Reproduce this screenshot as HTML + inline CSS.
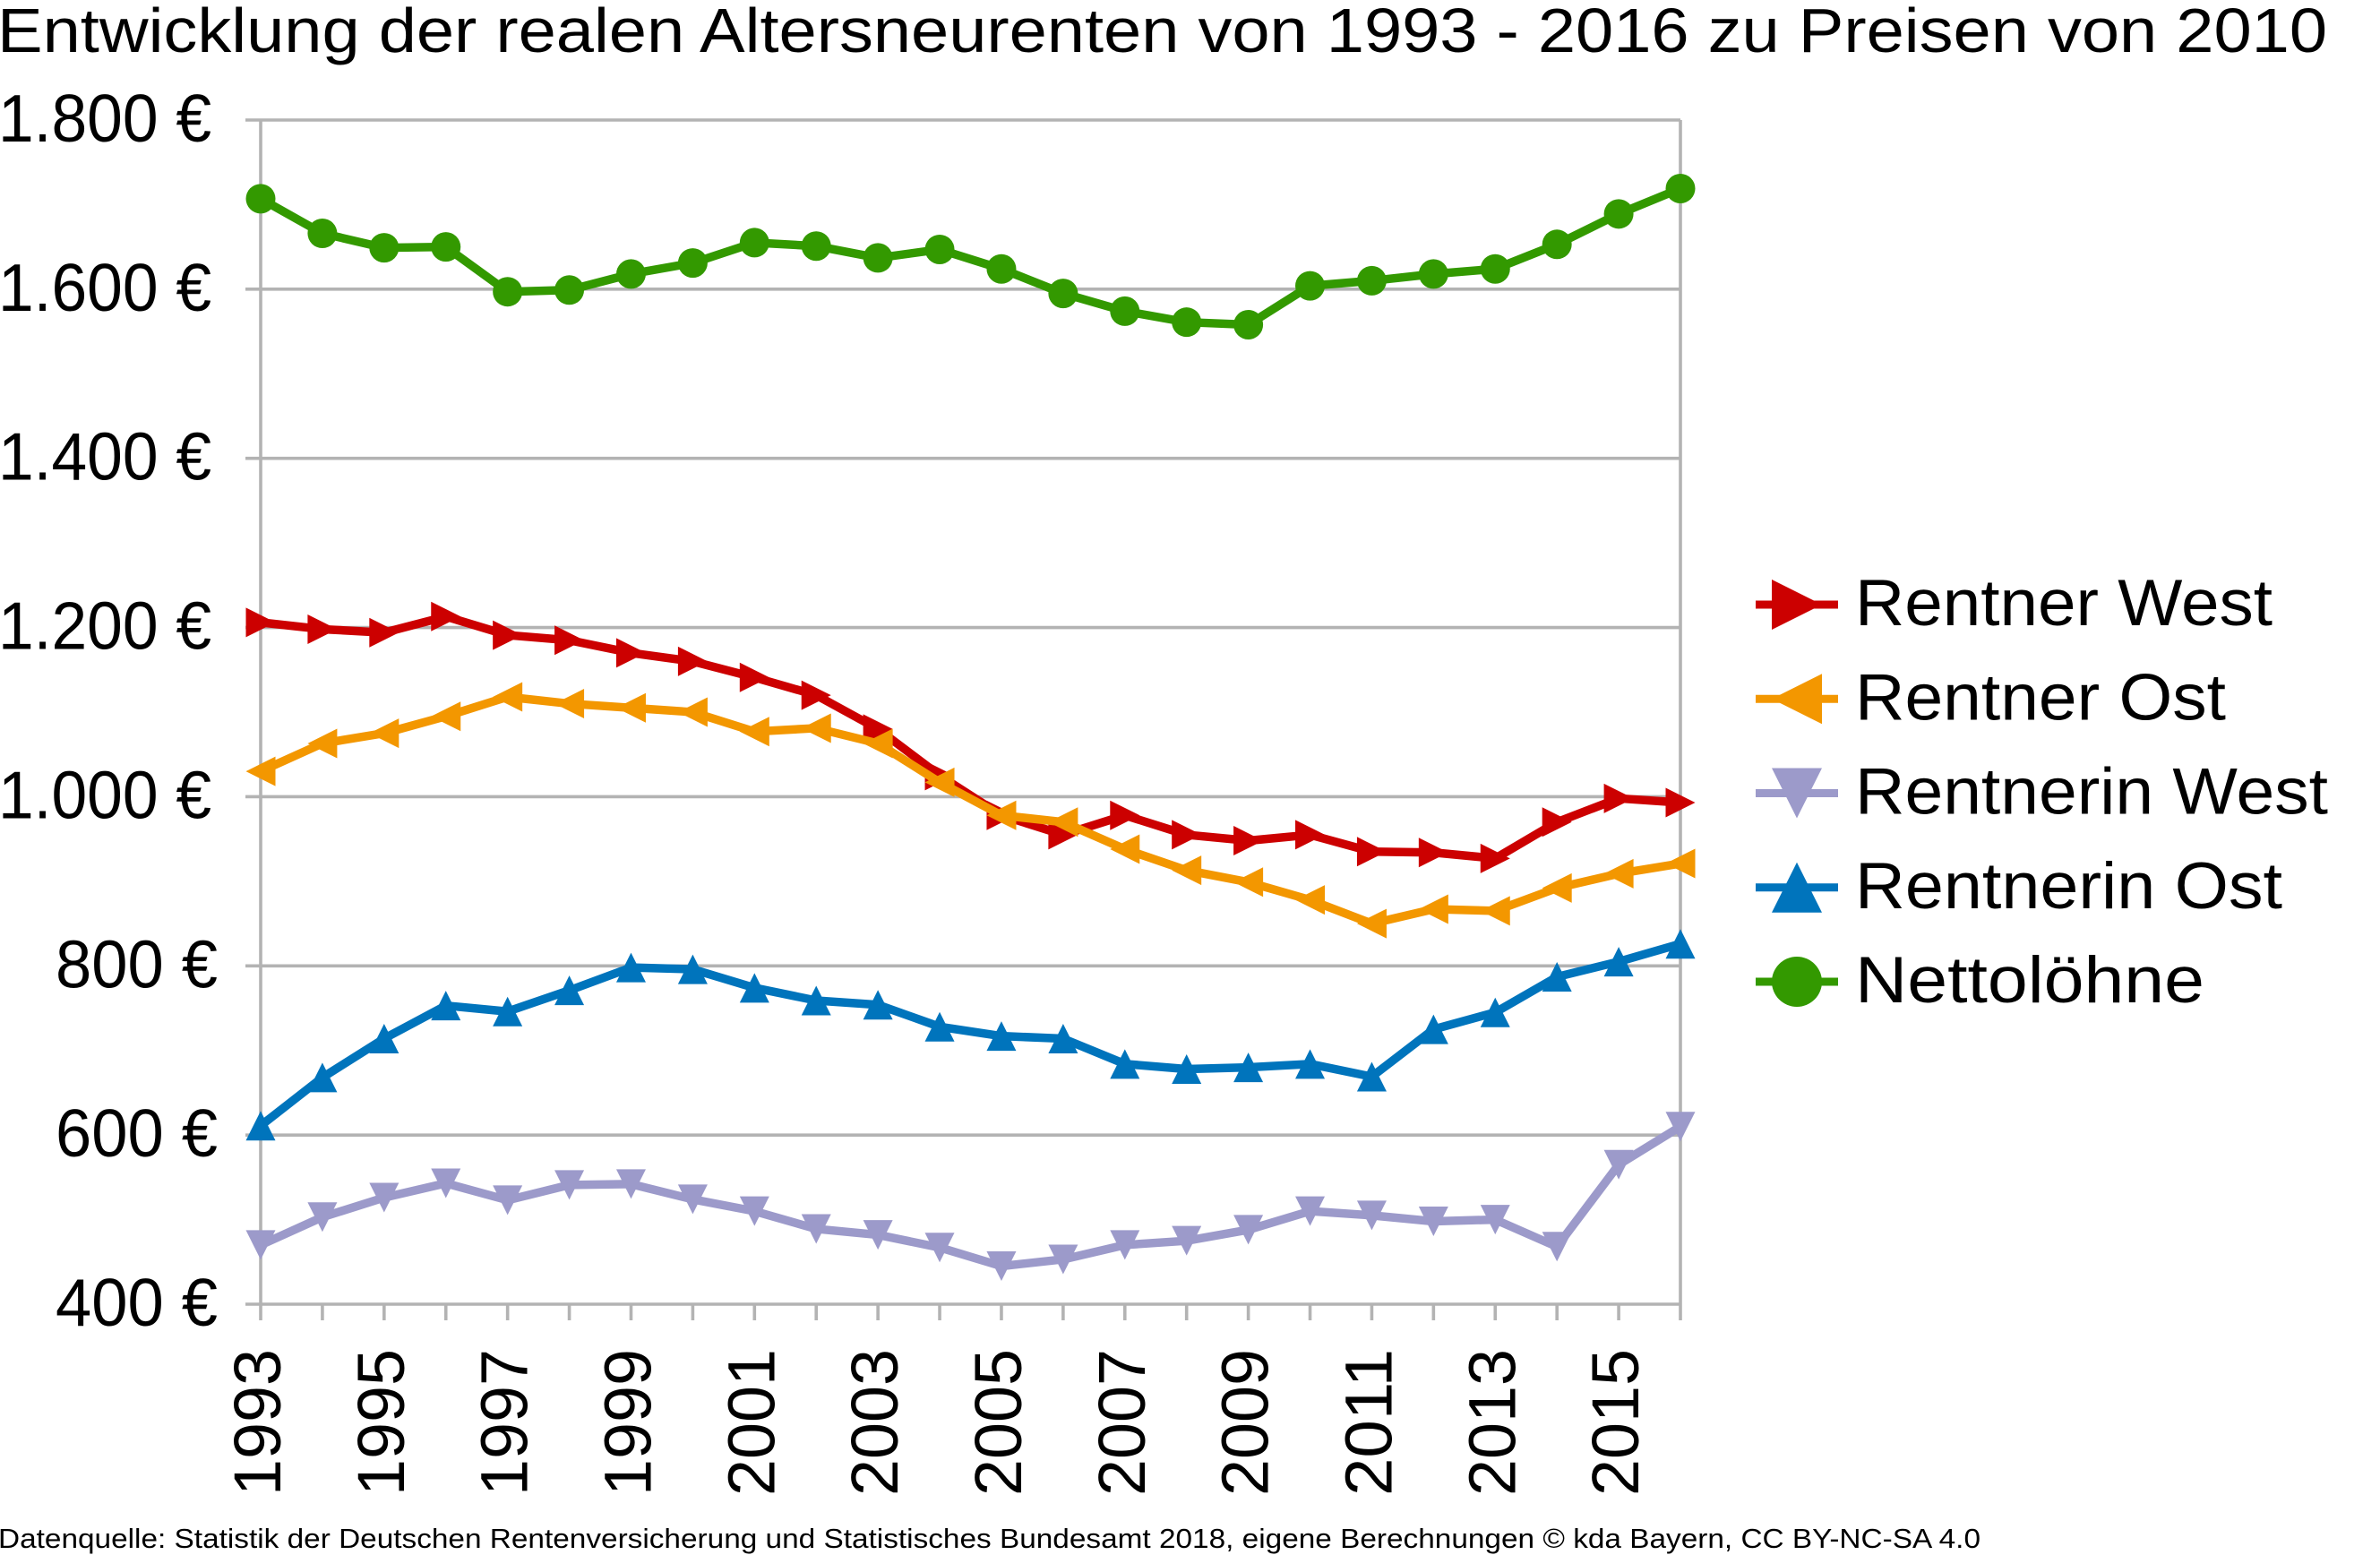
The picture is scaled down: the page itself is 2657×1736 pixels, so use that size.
<!DOCTYPE html>
<html lang="de">
<head>
<meta charset="utf-8">
<title>Entwicklung der realen Altersneurenten</title>
<style>
html,body{margin:0;padding:0;background:#fff;width:2657px;height:1736px;overflow:hidden}
svg{display:block}
text{font-family:"Liberation Sans",sans-serif;fill:#000}
</style>
</head>
<body>
<svg id="chart" xmlns="http://www.w3.org/2000/svg" width="2657" height="1736" viewBox="0 0 2657 1736">
<rect x="0" y="0" width="2657" height="1736" fill="#ffffff"/>
<text x="-3" y="58" font-size="70" textLength="2601" lengthAdjust="spacingAndGlyphs">Entwicklung der realen Altersneurenten von 1993 - 2016 zu Preisen von 2010</text>
<text x="-2" y="1728" font-size="31" textLength="2213" lengthAdjust="spacingAndGlyphs">Datenquelle: Statistik der Deutschen Rentenversicherung und Statistisches Bundesamt 2018, eigene Berechnungen © kda Bayern, CC BY-NC-SA 4.0</text>
<g id="grid"></g>
<g id="series"></g>
<g id="labels"></g>
<g id="legend"></g>
</svg>
<script>
var years = [1993,1994,1995,1996,1997,1998,1999,2000,2001,2002,2003,2004,2005,2006,2007,2008,2009,2010,2011,2012,2013,2014,2015,2016];
var yTicks = [400,600,800,1000,1200,1400,1600,1800];
var yTickLabels = ['400 €','600 €','800 €','1.000 €','1.200 €','1.400 €','1.600 €','1.800 €'];
var seriesNames = ['Rentner West','Rentner Ost','Rentnerin West','Rentnerin Ost','Nettolöhne'];
var rentnerWest = [1206,1198,1194,1213,1191,1185,1170,1160,1141,1120,1080,1025,978,955,978,955,948,955,935,934,927,970,998,993];
var rentnerOst = [1030,1063,1075,1095,1118,1110,1105,1100,1077,1081,1063,1017,978,970,938,913,899,878,850,867,865,892,909,921];
var rentnerinWest = [470,503,526,543,523,541,542,524,510,489,482,467,445,453,470,475,488,510,505,498,500,468,565,610];
var rentnerinOst = [611,668,714,753,746,771,798,796,774,759,754,728,717,714,684,678,680,684,669,725,745,787,805,826];
var nettoloehne = [1707,1666,1649,1650,1597,1599,1618,1631,1655,1651,1637,1647,1624,1595,1574,1561,1558,1604,1610,1618,1624,1653,1689,1719];

var NS = 'http://www.w3.org/2000/svg';
var plotLeft = 291, plotRight = 1876, plotTop = 134, plotBottom = 1456;
var yMin = 400, yMax = 1800;
var colors = ['#cc0000','#f39700','#9c9aca','#0074bc','#339900'];
var shapes = ['right','left','down','up','circle'];
var values = [rentnerWest, rentnerOst, rentnerinWest, rentnerinOst, nettoloehne];
var slugs = ['rentner-west','rentner-ost','rentnerin-west','rentnerin-ost','nettoloehne'];
var legendWidths = [466,414,528,477,390];

function xScale(i){ return plotLeft + i * (plotRight - plotLeft) / (years.length - 1); }
function yScale(v){ return plotBottom - (v - yMin) * (plotBottom - plotTop) / (yMax - yMin); }
function make(tag, attrs, parent){
  var el = document.createElementNS(NS, tag);
  for (var k in attrs) el.setAttribute(k, attrs[k]);
  parent.appendChild(el);
  return el;
}
function marker(shape, cx, cy, r, color, parent){
  if (shape === 'circle') return make('ellipse', {cx:cx, cy:cy, rx:r, ry:r, fill:color}, parent);
  var pts;
  if (shape === 'right') pts = [[cx-r,cy-r],[cx+r,cy],[cx-r,cy+r]];
  if (shape === 'left') pts = [[cx+r,cy-r],[cx-r,cy],[cx+r,cy+r]];
  if (shape === 'down') pts = [[cx-r,cy-r],[cx+r,cy-r],[cx,cy+r]];
  if (shape === 'up') pts = [[cx-r,cy+r],[cx+r,cy+r],[cx,cy-r]];
  return make('polygon', {points: pts.map(function(p){return p.join(',');}).join(' '), fill:color}, parent);
}

var grid = document.getElementById('grid');
var seriesGroup = document.getElementById('series');
var labels = document.getElementById('labels');
var legend = document.getElementById('legend');
var gridColor = '#b3b3b3';

yTicks.forEach(function(v, i){
  var y = yScale(v);
  var line = make('line', {x1:plotLeft-17, x2:plotRight, y1:y, y2:y, stroke:gridColor, 'stroke-width':3.6}, grid);
  
  
  var label = yTickLabels[i];
  var wide = label.length > 5;
  var t = make('text', {x: wide ? -2 : 62, y: y + 24, 'font-size':75, textLength: wide ? 238 : 181, lengthAdjust:'spacingAndGlyphs'}, labels);
  t.textContent = label;
  
  
});

var axisLeft = make('line', {x1:plotLeft, x2:plotLeft, y1:plotTop, y2:plotBottom, stroke:gridColor, 'stroke-width':3.6}, grid);


var axisRight = make('line', {x1:plotRight, x2:plotRight, y1:plotTop, y2:plotBottom, stroke:gridColor, 'stroke-width':3.6}, grid);



years.forEach(function(year, i){
  var x = xScale(i);
  var tick = make('line', {x1:x, x2:x, y1:plotBottom, y2:plotBottom+18, stroke:gridColor, 'stroke-width':3.6}, grid);
  
  
  if (i % 2 === 0) {
    var bx = x + 22, by = 1670;
    var t = make('text', {x:bx, y:by, 'font-size':74, textLength:164, lengthAdjust:'spacingAndGlyphs', transform:'rotate(-90 ' + bx + ' ' + by + ')'}, labels);
    t.textContent = String(year);
    
    
  }
});

values.forEach(function(vals, s){
  var g = make('g', {}, seriesGroup);
  
  
  var pts = vals.map(function(v, i){ return xScale(i) + ',' + yScale(v); }).join(' ');
  var line = make('polyline', {points:pts, fill:'none', stroke:colors[s], 'stroke-width':9.5, 'stroke-linejoin':'round'}, g);
  
  
  vals.forEach(function(v, i){
    var m = marker(shapes[s], xScale(i), yScale(v), 16.5, colors[s], g);
    
    
  });
});

seriesNames.forEach(function(name, s){
  var cy = 675 + s * 105.25;
  var g = make('g', {}, legend);
  
  
  var line = make('line', {x1:1960, x2:2052, y1:cy, y2:cy, stroke:colors[s], 'stroke-width':9}, g);
  
  
  var m = marker(shapes[s], 2006, cy, 28, colors[s], g);
  
  
  var t = make('text', {x:2071, y:cy + 23, 'font-size':73, textLength:legendWidths[s], lengthAdjust:'spacingAndGlyphs'}, g);
  t.textContent = name;
  
  
});
</script>
</body>
</html>
